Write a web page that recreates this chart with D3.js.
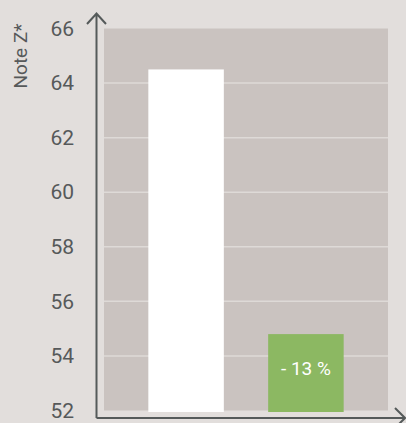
<!DOCTYPE html>
<html>
<head>
<meta charset="utf-8">
<script src="https://cdn.jsdelivr.net/npm/d3@7"></script>
<style>
  html, body { margin: 0; padding: 0; background: #e2dedc; }
  svg { display: block; font-family: Roboto, sans-serif; }
</style>
</head>
<body>
<svg id="chart" width="406" height="423"></svg>
<script>
// data
const categories = ["avant", "après"];
const values = [64.5, 54.8];
const barColors = ["#ffffff", "#8cb862"];
const barLabels = ["", "- 13 %"];
const yTicks = [52, 54, 56, 58, 60, 62, 64, 66];
const yTitle = "Note Z*";

const svg = d3.select("svg#chart");
const width = 406, height = 423;

const plot = { left: 104, right: 388, top: 28.5, bottom: 410.5 };

const y = d3.scaleLinear().domain([52, 66]).range([plot.bottom, plot.top]);
const x = d3.scaleBand().domain(categories)
    .range([plot.left, plot.right]).paddingInner(0.37).paddingOuter(0.37);

// plot background
svg.append("rect")
    .attr("x", plot.left).attr("y", plot.top)
    .attr("width", plot.right - plot.left)
    .attr("height", plot.bottom - plot.top)
    .attr("fill", "#cac3c0");

// grid lines
svg.append("g").selectAll("line")
    .data(yTicks.filter(d => d > 52 && d < 66))
    .join("line")
    .attr("x1", plot.left).attr("x2", plot.right)
    .attr("y1", d => y(d)).attr("y2", d => y(d))
    .attr("stroke", "#dedad7")
    .attr("stroke-width", 1.5);

// bars
const barBottom = plot.bottom + 1.5;
svg.append("g").selectAll("rect")
    .data(values)
    .join("rect")
    .attr("x", (d, i) => x(categories[i]))
    .attr("width", x.bandwidth())
    .attr("y", d => y(d))
    .attr("height", d => barBottom - y(d))
    .attr("fill", (d, i) => barColors[i]);

// bar labels
svg.append("g").selectAll("text")
    .data(values)
    .join("text")
    .attr("x", (d, i) => x(categories[i]) + x.bandwidth() / 2)
    .attr("y", d => (y(d) + barBottom) / 2 + 2)
    .attr("text-anchor", "middle")
    .attr("fill", "#ffffff")
    .attr("font-size", 19)
    .text((d, i) => barLabels[i]);

// y axis tick labels
const yAxis = d3.axisLeft(y).tickValues(yTicks).tickSize(0).tickPadding(0);
svg.append("g")
    .attr("transform", "translate(74,0)")
    .call(yAxis)
    .call(g => g.select(".domain").remove())
    .call(g => g.selectAll("text")
        .attr("font-family", "Roboto, sans-serif")
        .attr("font-size", 21)
        .attr("fill", "#56595a"));

// axes lines with open arrows
const axisColor = "#555a5a";
svg.append("path")
    .attr("d", "M96.5,418 L96.5,13.5 M87,24 L96.5,13.5 L106,24")
    .attr("fill", "none").attr("stroke", axisColor).attr("stroke-width", 2);
svg.append("path")
    .attr("d", "M96.5,418 L405,418 M395,408 L405,418 L395,428")
    .attr("fill", "none").attr("stroke", axisColor).attr("stroke-width", 2);

// y title
svg.append("text")
    .attr("transform", "translate(27,56) rotate(-90)")
    .attr("text-anchor", "middle")
    .attr("fill", "#56595a")
    .attr("font-size", 19)
    .text(yTitle);
</script>
</body>
</html>
